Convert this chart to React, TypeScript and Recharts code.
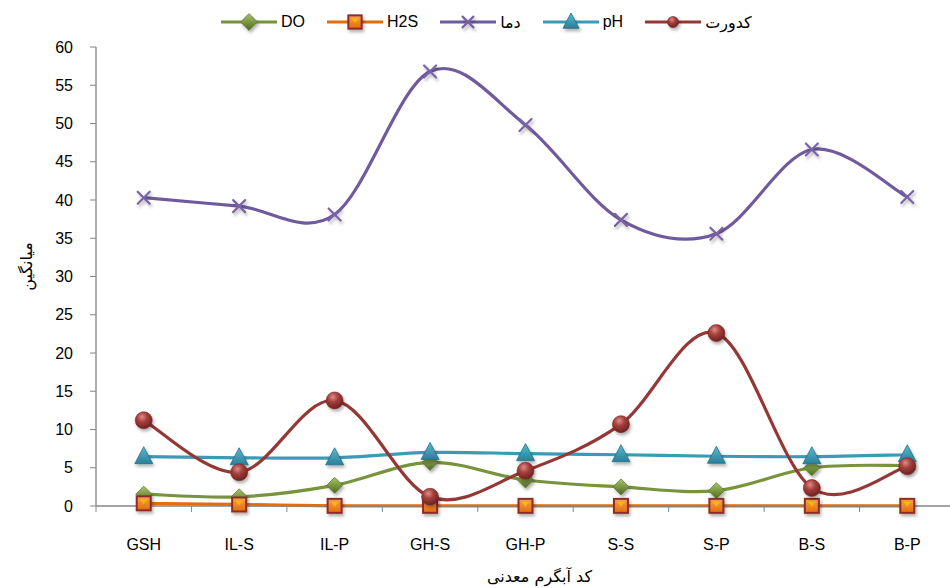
import React from 'react';
import { LineChart, Line, XAxis, YAxis } from 'recharts';

const categories = ['GSH', 'IL-S', 'IL-P', 'GH-S', 'GH-P', 'S-S', 'S-P', 'B-S', 'B-P'];
const doValues = [1.55, 1.2, 2.7, 5.7, 3.4, 2.5, 2.0, 5.0, 5.3];
const h2sValues = [0.35, 0.2, 0.02, 0.02, 0.02, 0.02, 0.02, 0.02, 0.02];
const tempValues = [40.3, 39.2, 38.1, 56.8, 49.8, 37.4, 35.6, 46.6, 40.4];
const phValues = [6.45, 6.3, 6.3, 7.0, 6.85, 6.7, 6.5, 6.45, 6.7];
const turbValues = [11.2, 4.4, 13.8, 1.2, 4.6, 10.7, 22.6, 2.35, 5.2];
const yTicks = [0, 5, 10, 15, 20, 25, 30, 35, 40, 45, 50, 55, 60];

const seriesNames = { do: 'DO', h2s: 'H2S', temp: 'دما', ph: 'pH', turb: 'کدورت' };

const data = categories.map((c, i) => ({
  name: c,
  do: doValues[i],
  h2s: h2sValues[i],
  temp: tempValues[i],
  ph: phValues[i],
  turb: turbValues[i],
}));

const COLORS = {
  do: '#77933C',
  h2s: '#E46C0A',
  temp: '#6F5A9E',
  ph: '#3B9AB5',
  turb: '#953735',
};

const FONT = '"Liberation Sans", "DejaVu Sans", Arial, sans-serif';
const PFONT = '"DejaVu Sans", sans-serif';
const W = 950;
const H = 588;
const LEFT = 96;
const RIGHT_OVER = 5;
const STEP = (W + RIGHT_OVER - LEFT) / categories.length;

// Excel-like smoothed curve (Catmull-Rom style bezier)
function excelCurve(context: any) {
  let pts: number[][] = [];
  return {
    areaStart() {},
    areaEnd() {},
    lineStart() {
      pts = [];
    },
    point(x: number, y: number) {
      pts.push([+x, +y]);
    },
    lineEnd() {
      if (!pts.length) return;
      context.moveTo(pts[0][0], pts[0][1]);
      for (let i = 0; i < pts.length - 1; i++) {
        const p0 = pts[i - 1] || pts[i];
        const p1 = pts[i];
        const p2 = pts[i + 1];
        const p3 = pts[i + 2] || pts[i + 1];
        const c1x = p1[0] + (p2[0] - p0[0]) / 6;
        const c1y = p1[1] + (p2[1] - p0[1]) / 6;
        const c2x = p2[0] - (p3[0] - p1[0]) / 6;
        const c2y = p2[1] - (p3[1] - p1[1]) / 6;
        context.bezierCurveTo(c1x, c1y, c2x, c2y, p2[0], p2[1]);
      }
    },
  };
}

const Diamond = ({ cx, cy, s = 1 }: any) => (
  <g filter="url(#shadow)">
    <polygon
      points={`${cx},${cy - 8 * s} ${cx + 8 * s},${cy} ${cx},${cy + 8 * s} ${cx - 8 * s},${cy}`}
      fill="url(#gDo)"
      stroke="#5f7a2e"
      strokeWidth={0.8}
    />
  </g>
);

const Square = ({ cx, cy, s = 1 }: any) => (
  <g filter="url(#shadow)">
    <rect x={cx - 7 * s} y={cy - 7 * s} width={14 * s} height={14 * s} fill="url(#gH2s)" stroke="#8B2D2B" strokeWidth={2} />
    <polygon points={`${cx - 4 * s},${cy - 4 * s} ${cx + 4 * s},${cy - 4 * s} ${cx},${cy + 1 * s}`} fill="#FFC000" opacity={0.8} />
  </g>
);

const Cross = ({ cx, cy, s = 1 }: any) => (
  <g filter="url(#shadow)" stroke="#7A62A8" strokeWidth={2.2} strokeLinecap="round">
    <line x1={cx - 6 * s} y1={cy - 6 * s} x2={cx + 6 * s} y2={cy + 6 * s} />
    <line x1={cx - 6 * s} y1={cy + 6 * s} x2={cx + 6 * s} y2={cy - 6 * s} />
  </g>
);

const Triangle = ({ cx, cy, s = 1 }: any) => (
  <g filter="url(#shadow)">
    <polygon
      points={`${cx},${cy - 10 * s} ${cx + 9 * s},${cy + 7 * s} ${cx - 9 * s},${cy + 7 * s}`}
      fill="url(#gPh)"
      stroke="#276f85"
      strokeWidth={0.8}
    />
  </g>
);

const Circle = ({ cx, cy, s = 1 }: any) => (
  <g filter="url(#shadow)">
    <circle cx={cx} cy={cy} r={8.5 * s} fill="url(#gTurb)" stroke="#7a2523" strokeWidth={0.6} />
  </g>
);

const markerFor: Record<string, (p: any) => any> = {
  do: Diamond,
  h2s: Square,
  temp: Cross,
  ph: Triangle,
  turb: Circle,
};

const legendScale: Record<string, number> = { do: 1.05, h2s: 0.95, temp: 0.9, ph: 0.9, turb: 0.65 };

const XTick = ({ x, y, payload, index }: any) => {
  const isLast = index === categories.length - 1;
  return (
    <g>
      <line x1={x - STEP / 2} y1={y - 8} x2={x - STEP / 2} y2={y - 2} stroke="#868686" strokeWidth={1} />
      {isLast && <line x1={x + STEP / 2 - 1} y1={y - 8} x2={x + STEP / 2 - 1} y2={y - 2} stroke="#868686" strokeWidth={1} />}
      <text x={x} y={y + 36} textAnchor="middle" fontSize={16} fontFamily={FONT} fill="#000">
        {payload.value}
      </text>
    </g>
  );
};

const LegendItem = ({ k }: { k: keyof typeof COLORS }) => {
  const M = markerFor[k];
  return (
    <div style={{ display: 'flex', alignItems: 'center', marginRight: 22 }}>
      <svg width={56} height={22} style={{ overflow: 'visible' }}>
        <line x1={0} y1={11} x2={56} y2={11} stroke={COLORS[k]} strokeWidth={3} />
        <M cx={28} cy={11} s={legendScale[k]} />
      </svg>
      <span style={{ marginLeft: 4, fontSize: 16, fontFamily: k === 'temp' || k === 'turb' ? PFONT : FONT, color: '#000' }}>
        {seriesNames[k]}
      </span>
    </div>
  );
};

export default function App() {
  const keys: (keyof typeof COLORS)[] = ['do', 'h2s', 'temp', 'ph', 'turb'];
  return (
    <div style={{ position: 'absolute', left: 0, top: 0, width: W, height: H, background: '#fff', overflow: 'hidden' }}>
      <svg width={0} height={0} style={{ position: 'absolute' }}>
        <defs>
          <filter id="shadow" x="-50%" y="-50%" width="200%" height="200%">
            <feDropShadow dx={1.5} dy={2.5} stdDeviation={1.5} floodColor="#000" floodOpacity={0.3} />
          </filter>
          <linearGradient id="gDo" x1="0" y1="0" x2="0" y2="1">
            <stop offset="0%" stopColor="#a8c470" />
            <stop offset="55%" stopColor="#77933C" />
            <stop offset="100%" stopColor="#4f6625" />
          </linearGradient>
          <linearGradient id="gH2s" x1="0" y1="0" x2="0" y2="1">
            <stop offset="0%" stopColor="#f7a050" />
            <stop offset="100%" stopColor="#E46C0A" />
          </linearGradient>
          <linearGradient id="gPh" x1="0" y1="0" x2="0" y2="1">
            <stop offset="0%" stopColor="#5bbad4" />
            <stop offset="100%" stopColor="#2a7f98" />
          </linearGradient>
          <radialGradient id="gTurb" cx="0.4" cy="0.3" r="0.7">
            <stop offset="0%" stopColor="#e08a88" />
            <stop offset="45%" stopColor="#a33e3b" />
            <stop offset="100%" stopColor="#6e2220" />
          </radialGradient>
        </defs>
      </svg>
      <div
        style={{
          position: 'absolute',
          top: 10,
          left: 221,
          display: 'flex',
          alignItems: 'center',
          height: 24,
        }}
      >
        {keys.map((k) => (
          <LegendItem key={k} k={k} />
        ))}
      </div>
      <LineChart width={W} height={H} data={data} margin={{ top: 47, right: -RIGHT_OVER, left: 0, bottom: 0 }}>
        <XAxis
          dataKey="name"
          height={82}
          padding={{ left: STEP / 2, right: STEP / 2 }}
          axisLine={{ stroke: '#868686', strokeWidth: 1.3 }}
          tickLine={false}
          tick={<XTick />}
          interval={0}
          label={{
            value: 'کد آبگرم معدنی',
            position: 'insideBottom',
            offset: 6,
            dx: 14,
            style: { fontSize: 16, fontFamily: PFONT, fill: '#000' },
          }}
        />
        <YAxis
          width={LEFT}
          domain={[0, 60]}
          ticks={yTicks}
          interval={0}
          axisLine={{ stroke: '#868686', strokeWidth: 1.3 }}
          tickLine={{ stroke: '#868686' }}
          tickSize={6}
          tickMargin={17}
          tick={{ fontSize: 16, fontFamily: FONT, fill: '#000' }}
          label={{
            value: 'میانگین',
            angle: -90,
            position: 'insideLeft',
            offset: 26,
            dy: -10,
            style: { fontSize: 16, fontFamily: PFONT, fill: '#000', textAnchor: 'middle' },
          }}
        />
        {keys.map((k) => {
          const M = markerFor[k];
          return (
            <Line
              key={k}
              dataKey={k}
              name={seriesNames[k]}
              type={excelCurve as any}
              stroke={COLORS[k]}
              strokeWidth={3.2}
              isAnimationActive={false}
              dot={(p: any) => <M key={`${k}-${p.index}`} cx={p.cx} cy={p.cy} />}
              activeDot={false}
            />
          );
        })}
      </LineChart>
    </div>
  );
}
